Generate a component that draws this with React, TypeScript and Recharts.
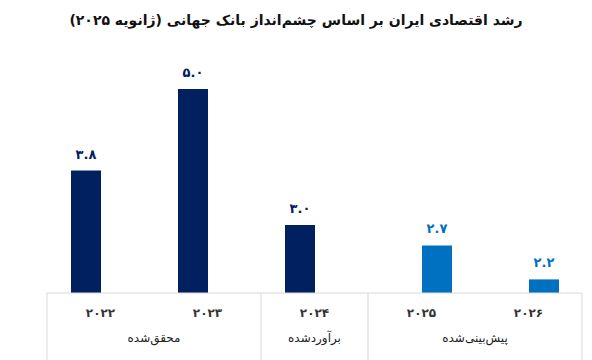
import React from 'react';
import { Bar, BarChart, LabelList, XAxis, YAxis } from 'recharts';

const years = ['2022', '2023', '2024', '2025', '2026'];
const actualValues = [3.8, 5.0, 3.0, null, null];
const forecastValues = [null, null, null, 2.7, 2.2];
const groups = [
    { name: 'محقق‌شده', start: 0, span: 2 },
    { name: 'برآوردشده', start: 2, span: 1 },
    { name: 'پیش‌بینی‌شده', start: 3, span: 2 },
];
const title = 'رشد اقتصادی ایران بر اساس چشم‌انداز بانک جهانی (ژانویه ۲۰۲۵)';

const chartData = years.map((year, i) => ({
    year,
    actual: actualValues[i],
    forecast: forecastValues[i],
}));

const W = 592;
const H = 360;
const plotLeft = 47;
const plotRight = 582;
const axisTop = 293;
const bandWidth = (plotRight - plotLeft) / years.length;
const font = '"DejaVu Sans", "Noto Sans", sans-serif';
const frameColor = '#d9d9d9';

const toPersian = (s: string) => s.replace(/[0-9]/g, d => '۰۱۲۳۴۵۶۷۸۹'[Number(d)]);
const fmt = (v: any) => (v == null ? '' : toPersian(Number(v).toFixed(1)));

const YearTick = (props: any) => {
    const { x, payload, index } = props;
    const group = groups.find(g => g.start === index);
    const isLast = index === years.length - 1;
    return (
        <g>
            <text x={x} y={axisTop + 24} textAnchor="middle" fontSize={12} fontWeight="bold" fill="#333" fontFamily={font}>
                {toPersian(payload.value)}
            </text>
            {group && (
                <>
                    <line x1={x - bandWidth / 2} x2={x - bandWidth / 2} y1={axisTop} y2={H} stroke={frameColor} />
                    <text x={x + (group.span - 1) * bandWidth / 2} y={axisTop + 49} textAnchor="middle" fontSize={12} fill="#222" fontFamily={font} direction="rtl">
                        {group.name}
                    </text>
                </>
            )}
            {isLast && (
                <line x1={x + bandWidth / 2} x2={x + bandWidth / 2} y1={axisTop} y2={H} stroke={frameColor} />
            )}
        </g>
    );
};

const App = () => {
    return (
        <div style={{ position: 'absolute', left: 0, top: 0, width: W, height: H, background: '#fff' }}>
            <div style={{ position: 'absolute', left: 0, top: 12, width: W, textAlign: 'center', fontFamily: font, fontWeight: 'bold', fontSize: 14, color: '#111', direction: 'rtl' }}>
                {title}
            </div>
            <BarChart
                width={W}
                height={H}
                data={chartData}
                margin={{ top: 55, right: W - plotRight, left: plotLeft, bottom: 0 }}
                barGap={0}
            >
                <XAxis
                    dataKey="year"
                    height={H - axisTop}
                    axisLine={{ stroke: frameColor }}
                    tickLine={false}
                    tick={<YearTick />}
                    interval={0}
                />
                <YAxis hide domain={[2, 5.5]} allowDataOverflow />
                <Bar dataKey="actual" fill="#002060" barSize={30} isAnimationActive={false}>
                    <LabelList dataKey="actual" position="top" offset={12} formatter={fmt} fill="#002060" fontSize={13} fontWeight="bold" fontFamily={font} />
                </Bar>
                <Bar dataKey="forecast" fill="#0070c0" barSize={30} isAnimationActive={false}>
                    <LabelList dataKey="forecast" position="top" offset={12} formatter={fmt} fill="#0070c0" fontSize={13} fontWeight="bold" fontFamily={font} />
                </Bar>
            </BarChart>
        </div>
    );
};

export default App;
